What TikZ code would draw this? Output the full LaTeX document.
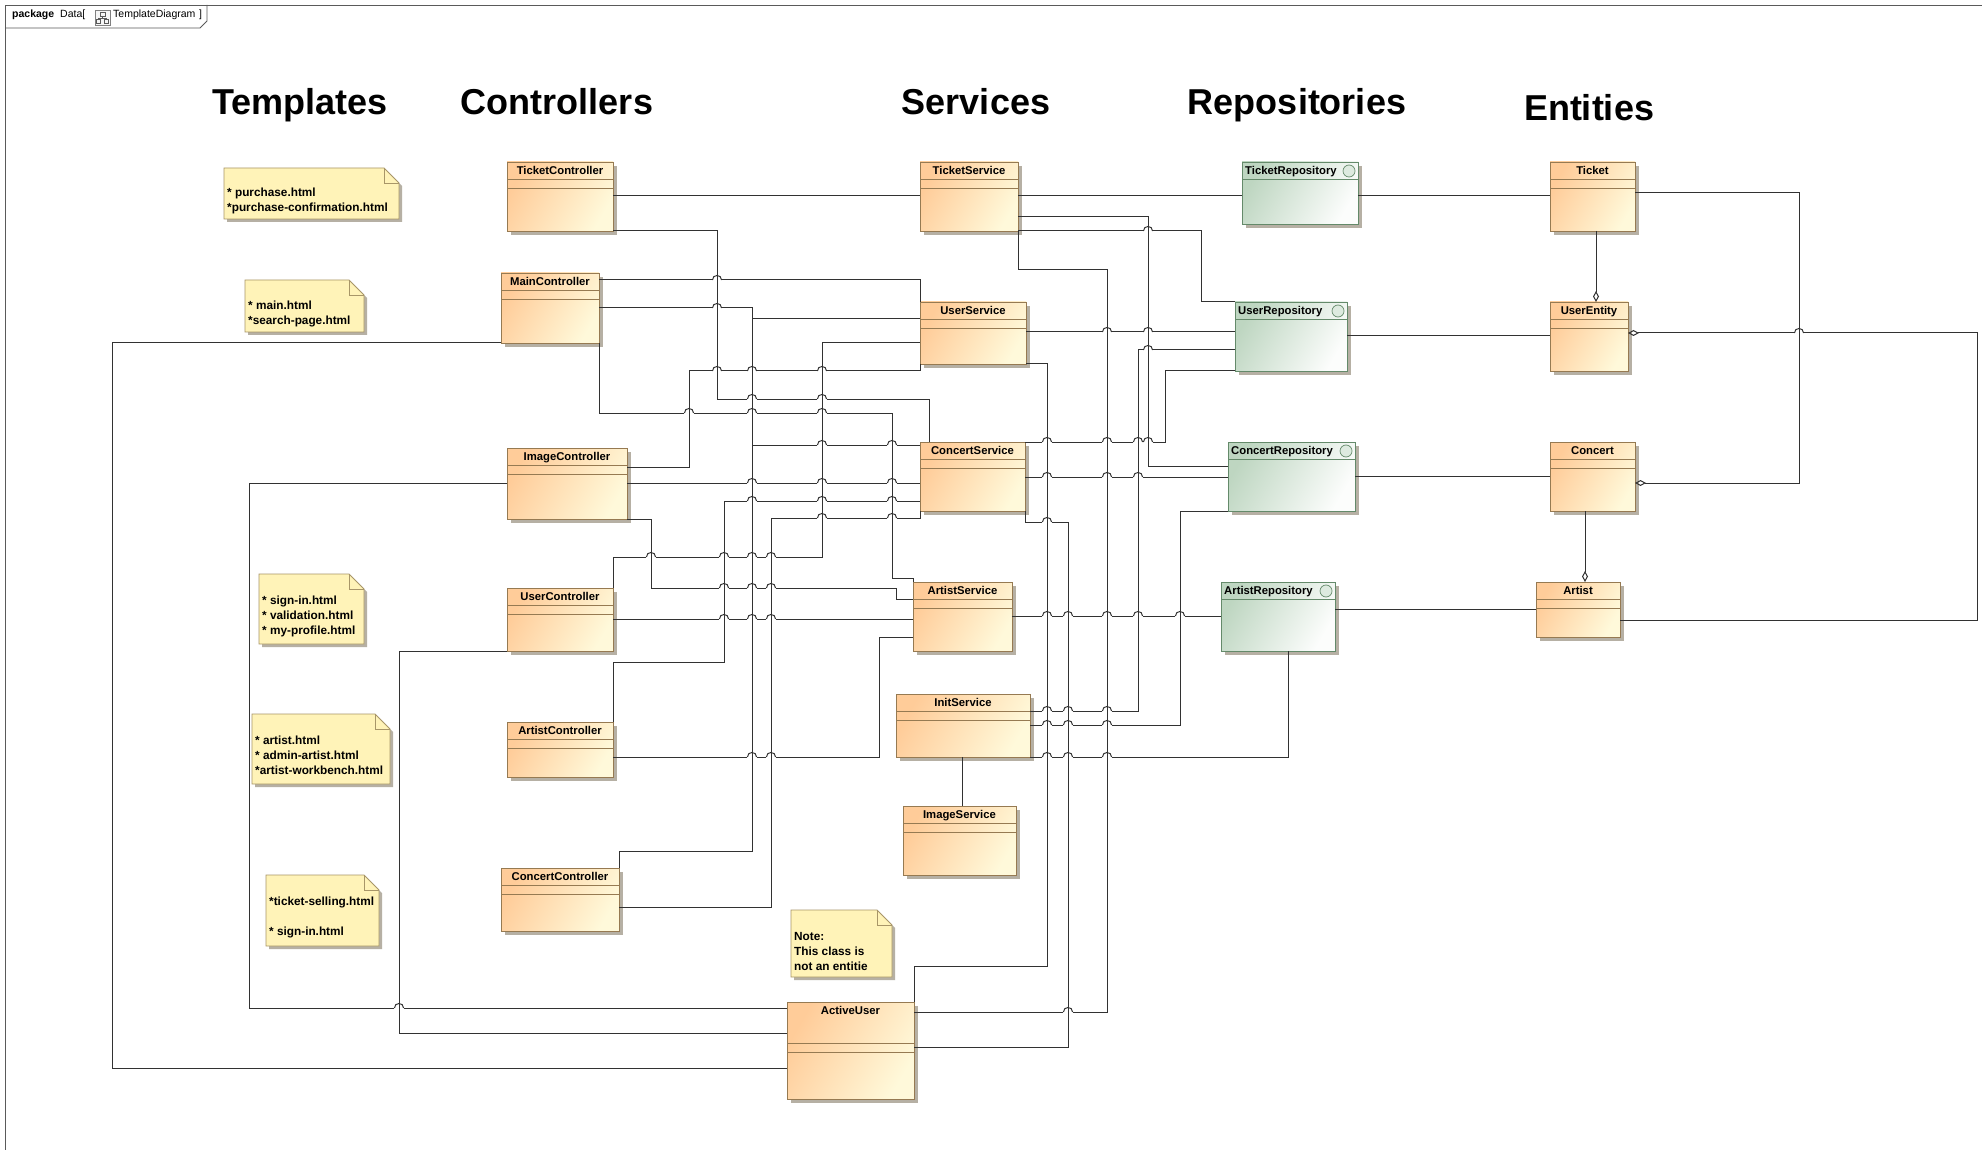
\documentclass[tikz,border=0pt]{standalone}
\usepackage{fontspec}
\setmainfont{Liberation Sans}
\usetikzlibrary{arrows.meta}
\definecolor{clsA}{RGB}{255,204,153}
\definecolor{clsB}{RGB}{255,249,218}
\definecolor{clsBorder}{RGB}{150,122,82}
\definecolor{repoA}{RGB}{190,214,193}
\definecolor{repoB}{RGB}{252,253,252}
\definecolor{repoBorder}{RGB}{100,138,106}
\definecolor{noteFill}{RGB}{255,243,184}
\definecolor{noteBorder}{RGB}{168,150,104}
\definecolor{shadowC}{RGB}{182,176,164}
\definecolor{lineC}{RGB}{50,50,50}
\definecolor{frameC}{RGB}{90,90,90}
\tikzset{
  conn/.style={draw=lineC, line width=1pt},
  classbox/.style={draw=clsBorder, line width=0.8pt, top color=clsA, bottom color=clsB, shading angle=60, inner sep=0pt, outer sep=0pt, anchor=north west},
  repobox/.style={draw=repoBorder, line width=0.8pt, top color=repoA, bottom color=repoB, shading angle=60, inner sep=0pt, outer sep=0pt, anchor=north west},
  clsline/.style={draw=clsBorder, line width=0.8pt},
  repoline/.style={draw=repoBorder, line width=0.8pt},
  clstitle/.style={inner sep=0pt, font=\fontsize{11.3}{13}\selectfont\bfseries},
  notetext/.style={inner sep=0pt, anchor=base west, font=\fontsize{11.8}{14}\selectfont\bfseries},
  hdr/.style={inner sep=0pt, anchor=base, font=\fontsize{36}{40}\selectfont\bfseries},
  pkgtext/.style={inner sep=0pt, anchor=base west, font=\fontsize{10.5}{12}\selectfont},
  agg/.style={-{Diamond[open,length=11pt,width=6pt]}},
  aggstart/.style={{Diamond[open,length=11pt,width=6pt]}-},
}
\newcommand\umlclass[6]{%
  \fill[shadowC] ({#2+4},{#3+4}) rectangle ++(#4,#5);
  \node[classbox, minimum width=#4pt, minimum height=#5pt] (#1) at (#2,#3) {};
  \node[clstitle, anchor=base] (#1t) at ({#2+#4/2},{#3+12.5}) {#6};
  \draw[clsline] (#2,{#3+17}) -- ++(#4,0) (#2,{#3+26}) -- ++(#4,0);
}
\newcommand\umlrepo[6]{%
  \fill[shadowC] ({#2+4},{#3+4}) rectangle ++(#4,#5);
  \node[repobox, minimum width=#4pt, minimum height=#5pt] (#1) at (#2,#3) {};
  \node[clstitle, anchor=base west] (#1t) at ({#2+3},{#3+12.5}) {#6};
  \draw[repoline] (#2,{#3+17}) -- ++(#4,0);
  \draw[repoBorder, line width=0.7pt, fill=repoB!50!repoA] ({#2+#4-9},{#3+9}) circle (6pt);
}
\newcommand\umlnote[4]{%
  \fill[shadowC] ({#1+3},{#2+3}) -- ({#3-12},{#2+3}) -- ({#3+3},{#2+18}) -- ({#3+3},{#4+3}) -- ({#1+3},{#4+3}) -- cycle;
  \draw[noteBorder, line width=0.8pt, fill=noteFill] (#1,#2) -- ({#3-15},#2) -- (#3,{#2+15}) -- (#3,#4) -- (#1,#4) -- cycle;
  \draw[noteBorder, line width=0.8pt] ({#3-15},#2) -- ({#3-15},{#2+15}) -- (#3,{#2+15});
}
\newcommand\jump[2]{%
  \fill[white] ({#1-4.6},{#2-1.3}) rectangle ({#1+4.6},{#2+1.3});
  \draw[conn] (#1,{#2-2.5}) -- (#1,{#2+2.5});
  \draw[conn] ({#1-4.6},#2) .. controls ({#1-4.6},{#2-6}) and ({#1+4.6},{#2-6}) .. ({#1+4.6},#2);
}
\begin{document}
\begin{tikzpicture}[x=1pt,y=-1pt]
\useasboundingbox (0,0) rectangle (1982,1150);
\fill[white] (0,0) rectangle (1982,1150);
% frame
\draw[frameC, line width=0.8pt] (1982,5) -- (5,5) -- (5,1150);
\draw[frameC, line width=0.8pt] (5,28) -- (200,28) -- (207,21) -- (207,5);
\node[pkgtext, font=\fontsize{10.5}{12}\selectfont\bfseries] (pkgkw) at (12,18) {package};
\node[pkgtext] (pkgname) at (60,18) {Data[};
\draw[gray, line width=0.6pt, fill=gray!8] (95,10) rectangle (110,25);
\draw[gray!70!black, line width=0.5pt] (100,12) rectangle (105,16) (102.5,16) -- (102.5,18) (98.5,18) -- (106.5,18) (98.5,18) -- (98.5,19.5) (106.5,18) -- (106.5,19.5) (96.5,19.5) rectangle (100.5,23) (104.5,19.5) rectangle (108.5,23);
\node[pkgtext] (pkgdiag) at (113,18) {TemplateDiagram};
\node[pkgtext] (pkgclose) at (199,18) {]};
% headers
\node[hdr] (hTemplates) at (300,115) {Templates};
\node[hdr] (hControllers) at (557,115) {Controllers};
\node[hdr] (hServices) at (976,115) {Services};
\node[hdr] (hRepos) at (1297,115) {Repositories};
\node[hdr] (hEntities) at (1589,121) {Entities};
% notes
\umlnote{224}{168}{399}{219}
\node[notetext] (n1a) at (227,197) {* purchase.html};
\node[notetext] (n1b) at (227,212) {*purchase-confirmation.html};
\umlnote{245}{280}{364}{332}
\node[notetext] (n2a) at (248,310) {* main.html};
\node[notetext] (n2b) at (248,325) {*search-page.html};
\umlnote{259}{574}{364}{644}
\node[notetext] (n3a) at (262,604) {* sign-in.html};
\node[notetext] (n3b) at (262,619) {* validation.html};
\node[notetext] (n3c) at (262,634) {* my-profile.html};
\umlnote{252}{714}{390}{784}
\node[notetext] (n4a) at (255,744) {* artist.html};
\node[notetext] (n4b) at (255,759) {* admin-artist.html};
\node[notetext] (n4c) at (255,774) {*artist-workbench.html};
\umlnote{266}{875}{379}{946}
\node[notetext] (n5a) at (269,905) {*ticket-selling.html};
\node[notetext] (n5b) at (269,935) {* sign-in.html};
\umlnote{791}{910}{892}{977}
\node[notetext] (n6a) at (794,940) {Note:};
\node[notetext] (n6b) at (794,955) {This class is};
\node[notetext] (n6c) at (794,970) {not an entitie};
% classes
\umlclass{TC}{507}{162}{106}{69}{TicketController}
\umlclass{MC}{501}{273}{98}{70}{MainController}
\umlclass{IC}{507}{448}{120}{71}{ImageController}
\umlclass{UC}{507}{588}{106}{63}{UserController}
\umlclass{AC}{507}{722}{106}{55}{ArtistController}
\umlclass{CC}{501}{868}{118}{63}{ConcertController}
\umlclass{TS}{920}{162}{98}{69}{TicketService}
\umlclass{US}{920}{302}{106}{62}{UserService}
\umlclass{CS}{920}{442}{105}{69}{ConcertService}
\umlclass{AS}{913}{582}{99}{69}{ArtistService}
\umlclass{IS}{896}{694}{134}{63}{InitService}
\umlclass{ImS}{903}{806}{113}{69}{ImageService}
\umlclass{T}{1550}{162}{85}{69}{Ticket}
\umlclass{UE}{1550}{302}{78}{69}{UserEntity}
\umlclass{C}{1550}{442}{85}{69}{Concert}
\umlclass{A}{1536}{582}{84}{55}{Artist}
\fill[shadowC] (791,1006) rectangle ++(127,97);
\node[classbox, minimum width=127pt, minimum height=97pt] (AU) at (787,1002) {};
\node[clstitle, anchor=base] (AUt) at (850.5,1014.5) {ActiveUser};
\draw[clsline] (787,1043) -- ++(127,0) (787,1052) -- ++(127,0);
% repositories
\umlrepo{TR}{1242}{162}{116}{62}{TicketRepository}
\umlrepo{UR}{1235}{302}{112}{69}{UserRepository}
\umlrepo{CR}{1228}{442}{127}{69}{ConcertRepository}
\umlrepo{AR}{1221}{582}{114}{69}{ArtistRepository}
% controllers -> services / ActiveUser
\draw[conn] (TC.east |- 0,196) -- (TS.west |- 0,196);
\draw[conn] (TC.south east) -- (717,231) -- (717,399) -- (929,399) -- (CS.north -| 929,0);
\draw[conn] (MC.east |- 0,280) -- (920,280) -- (US.north west);
\draw[conn] (MC.east |- 0,308) -- (752,308) -- (752,445) -- (CS.west |- 0,445);
\draw[conn] (MC.south east) -- (599,413) -- (892,413) -- (892,578) -- (913,578) -- (AS.north west);
\draw[conn] (MC.south west) -- (112,343) -- (112,1068) -- (AU.west |- 0,1068);
\draw[conn] (IC.west |- 0,483) -- (249,483) -- (249,1008) -- (AU.west |- 0,1008);
\draw[conn] (IC.east |- 0,467) -- (689,467) -- (689,371) -- (920,371) -- (US.south west);
\draw[conn] (IC.east |- 0,483) -- (CS.west |- 0,483);
\draw[conn] (IC.south east) -- (651,519) -- (651,588) -- (896,588) -- (896,599) -- (AS.west |- 0,599);
\draw[conn] (UC.north east) -- (613,557) -- (822,557) -- (822,343) -- (US.west |- 0,343);
\draw[conn] (UC.east |- 0,619) -- (AS.west |- 0,619);
\draw[conn] (UC.south west) -- (399,651) -- (399,1033) -- (AU.west |- 0,1033);
\draw[conn] (AC.north east) -- (613,662) -- (724,662) -- (724,501) -- (CS.west |- 0,501);
\draw[conn] (AC.east |- 0,757) -- (879,757) -- (879,637) -- (AS.west |- 0,637);
\draw[conn] (CC.north east) -- (619,851) -- (752,851) -- (752,319) -- (US.west |- 0,319);
\draw[conn] (CC.east |- 0,907) -- (771,907) -- (771,518) -- (920,518) -- (CS.south west);
% services -> repositories / ActiveUser
\draw[conn] (TS.east |- 0,196) -- (TR.west |- 0,196);
\draw[conn] (TS.east |- 0,217) -- (1148,217) -- (1148,466) -- (CR.west |- 0,466);
\draw[conn] (TS.south east) -- (1201,231) -- (1201,302) -- (UR.north west);
\draw[conn] (TS.south east) -- (1018,270) -- (1107,270) -- (1107,1012) -- (AU.east |- 0,1012);
\draw[conn] (US.east |- 0,332) -- (UR.west |- 0,332);
\draw[conn] (US.south east) -- (1047,364) -- (1047,966) -- (914,966) -- (AU.north east);
\draw[conn] (UR.west |- 0,350) -- (1138,350) -- (1138,711) -- (IS.east |- 0,711);
\draw[conn] (UR.south west) -- (1165,371) -- (1165,442) -- (CS.north east);
\draw[conn] (CS.east |- 0,477) -- (CR.west |- 0,477);
\draw[conn] (CS.south east) -- (1025,522) -- (1068,522) -- (1068,1047) -- (AU.east |- 0,1047);
\draw[conn] (AS.east |- 0,616) -- (AR.west |- 0,616);
\draw[conn] (IS.east |- 0,725) -- (1180,725) -- (1180,511) -- (CR.south west);
\draw[conn] (IS.south east) -- (1288,757) -- (AR.south -| 1288,0);
\draw[conn] (IS.south -| 962,0) -- (ImS.north -| 962,0);
% repositories -> entities
\draw[conn] (TR.east |- 0,196) -- (T.west |- 0,196);
\draw[conn] (UR.east |- 0,336) -- (UE.west |- 0,336);
\draw[conn] (CR.east |- 0,476) -- (C.west |- 0,476);
\draw[conn] (AR.east |- 0,609) -- (A.west |- 0,609);
% entity associations
\draw[conn, agg] (T.south -| 1596,0) -- (UE.north -| 1596,0);
\draw[conn, agg] (C.south -| 1585,0) -- (A.north -| 1585,0);
\draw[conn, agg] (T.east |- 0,193) -- (1799,193) -- (1799,483) -- (C.east |- 0,483);
\draw[conn, aggstart] (UE.east |- 0,333) -- (1977,333) -- (1977,620) -- (A.east |- 0,620);
% line jumps
\foreach \hx/\hy in {752/399, 822/399, 717/280, 717/308, 822/445, 892/445, 689/413, 752/413, 822/413, 399/1008, 717/371, 752/371, 822/371, 752/483, 822/483, 892/483, 724/588, 752/588, 771/588, 651/557, 724/557, 752/557, 771/557, 724/619, 752/619, 771/619, 752/501, 822/501, 892/501, 752/757, 771/757, 822/518, 892/518, 1148/231, 1068/1012, 1107/332, 1148/332, 1148/350, 1047/711, 1068/711, 1107/711, 1047/442, 1107/442, 1138/442, 1148/442, 1047/477, 1107/477, 1138/477, 1047/522, 1047/616, 1068/616, 1107/616, 1138/616, 1180/616, 1047/725, 1068/725, 1107/725, 1047/757, 1068/757, 1107/757, 1799/333}
  {\jump{\hx}{\hy}}
\end{tikzpicture}
\end{document}
